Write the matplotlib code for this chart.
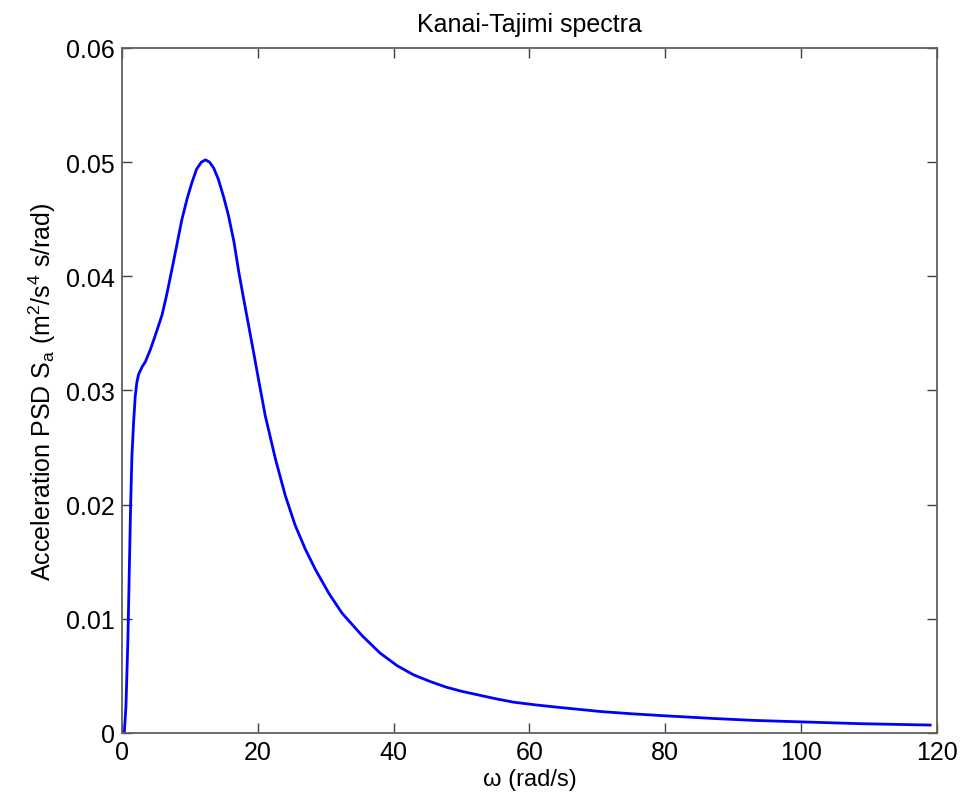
import numpy as np
import matplotlib
matplotlib.use('Agg')
import matplotlib.pyplot as plt

plt.rcParams['font.family'] = ['Liberation Sans', 'DejaVu Sans']
plt.rcParams['mathtext.fontset'] = 'custom'
plt.rcParams['mathtext.rm'] = 'Liberation Sans'
plt.rcParams['mathtext.it'] = 'Liberation Sans:italic'

# values
omega = [0.0, 0.35, 0.59, 0.74, 0.88, 0.98, 1.13, 1.28, 1.47, 1.72, 1.96,
         2.2, 2.45, 3.0, 3.44, 4.2, 4.9, 5.9, 6.6, 7.36, 8.1, 8.84, 9.6,
         10.3, 11.0, 11.7, 12.3, 12.9, 13.5, 14.2, 15.0, 15.7, 16.5, 17.2,
         17.9, 18.65, 19.4, 20.1, 21.1, 22.6, 24.05, 25.5, 27.0, 28.5, 30.5,
         32.4, 35.4, 38.0, 40.5, 42.9, 45.4, 47.8, 50.0, 52.7, 55.0, 57.6,
         61.0, 64.5, 70.6, 75.0, 80.0, 87.0, 93.0, 100.0, 108.8, 119.0]
psd = [0.0, 0.0, 0.0023, 0.0053, 0.0082, 0.0111, 0.0155, 0.0199, 0.0242,
       0.0272, 0.0295, 0.0307, 0.0314, 0.0321, 0.0325, 0.0336, 0.0348,
       0.0366, 0.0384, 0.0406, 0.0428, 0.0450, 0.0468, 0.0482, 0.0494,
       0.0500, 0.0502, 0.0500, 0.0495, 0.0485, 0.0469, 0.0453, 0.0430,
       0.0404, 0.0381, 0.0357, 0.0333, 0.0310, 0.0278, 0.0240, 0.0208,
       0.0182, 0.0161, 0.0143, 0.0122, 0.0105, 0.0085, 0.0070, 0.0059,
       0.0051, 0.0045, 0.0040, 0.00365, 0.0033, 0.0030, 0.0027, 0.00245,
       0.00223, 0.00187, 0.00168, 0.00150, 0.00127, 0.0011, 0.00097,
       0.00081, 0.00069]

xticks = [0, 20, 40, 60, 80, 100, 120]
yticks = [0, 0.01, 0.02, 0.03, 0.04, 0.05, 0.06]
ytick_labels = ['0', '0.01', '0.02', '0.03', '0.04', '0.05', '0.06']

fig = plt.figure(figsize=(9.6, 8.03), dpi=100)
ax = fig.add_axes([0.127, 0.086, 0.849, 0.853])

ax.plot(omega, psd, color='#0000ff', lw=2.0)

ax.set_xlim(0, 120)
ax.set_ylim(0, 0.06)
ax.set_xticks(xticks)
ax.set_yticks(yticks)
ax.set_yticklabels(ytick_labels)
ax.tick_params(direction='in', length=7, width=1, top=True, right=True,
               labelsize=18, color='#404040', pad=5)
for s in ax.spines.values():
    s.set_color('#606060')
    s.set_linewidth(1.3)

ax.set_title('Kanai-Tajimi spectra', fontsize=18, pad=12)
ax.set_xlabel('ω (rad/s)', fontsize=17, labelpad=3)
ax.set_ylabel(r'Acceleration PSD S$_\mathrm{a}$ (m$^2$/s$^4$ s/rad)',
              fontsize=18, labelpad=6)

fig.savefig('out.png', dpi=100)
